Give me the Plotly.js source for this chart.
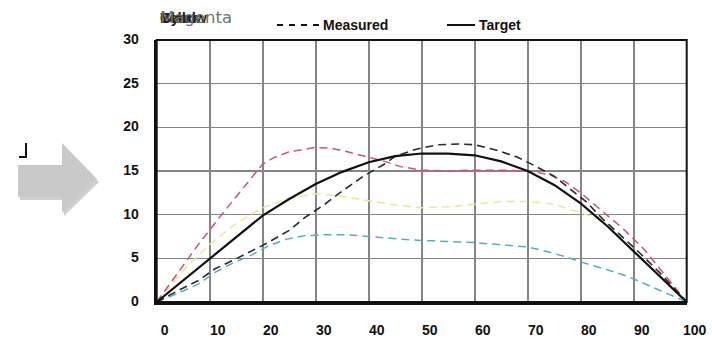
<!DOCTYPE html>
<html>
<head>
<meta charset="utf-8">
<script src="https://cdn.plot.ly/plotly-3.0.1.min.js"></script>
<style>
html,body{margin:0;padding:0;background:#fff;}
#chart{width:712px;height:339px;}
</style>
</head>
<body>
<div id="chart"></div>
<script>
// ---- data ----
const targetX = [0,5,10,15,20,25,30,35,40,45,50,55,60,65,70,75,80,85,90,95,100];
const targetY = [0,2.5,5,7.5,9.9,11.8,13.5,14.9,16.0,16.7,17.0,17.0,16.8,16.1,15.0,13.4,11.3,8.7,5.8,2.9,0];

const magentaX = [0,4,8,12,15,18,20,22,25,30,33,36,40,43,46,50,55,60,65,70,74,77,80,84,88,92,96,100];
const magentaY = [0,3.3,6.7,9.8,12,14.3,15.8,16.5,17.2,17.7,17.6,17.2,16.6,16.1,15.5,15.1,15.0,15.1,15.1,15.0,14.6,13.8,12.5,10.5,8.4,6.0,3.0,0];

const blackX = [0,4,8,11,14.5,18,21,25,28,31.5,35,39,43,45,49,53,57,60,64,68,71,75,78,81,84,87.5,91,95,100];
const blackY = [0,1.3,2.5,3.8,4.8,5.9,6.8,8.2,9.7,11.1,12.7,14.4,15.8,16.7,17.5,18.0,18.1,18.0,17.4,16.6,15.7,14.4,13.0,11.5,9.6,7.7,5.7,3.3,0];

const cyanX = [0,4,8,11,14.5,18,21,24.5,28,32,36,40,44,48,52,56,60,64,70,73.5,77,81,85,89,92,96,100];
const cyanY = [0,1.0,2.1,3.4,4.5,5.4,6.4,7.2,7.6,7.7,7.7,7.5,7.3,7.1,7.0,6.9,6.8,6.6,6.3,5.8,5.2,4.4,3.7,2.9,2.1,1.1,0];

const yellowX = [0,5,10,15,20,25,30,35,40,45,50,55,60,65,70,75,80,83,86,90,95,100];
const yellowY = [0,3.6,6.6,9.0,10.8,11.9,12.4,12.1,11.6,11.1,10.8,10.9,11.2,11.5,11.5,11.2,10.2,9.6,8.2,5.8,2.9,0];

const xTicks = [0,10,20,30,40,50,60,70,80,90,100];
const yTicks = [0,5,10,15,20,25,30];
const inkNames = ["Black","Cyan","Yellow","Magenta"];
const legendNames = ["Measured","Target"];

// ---- layout helpers (pixel -> paper) ----
const W = 712, H = 339;
const px = v => v / W;
const py = v => 1 - v / H;
const FONT = "Liberation Sans, Arial, sans-serif";
const DASH = "8px,5px";

const traces = [
  {x: yellowX, y: yellowY, mode: "lines", line: {color: "rgb(238,232,150)", width: 1.6, dash: DASH}, hoverinfo: "skip"},
  {x: cyanX, y: cyanY, mode: "lines", line: {color: "rgb(80,175,200)", width: 1.5, dash: DASH}, hoverinfo: "skip"},
  {x: magentaX, y: magentaY, mode: "lines", line: {color: "rgb(210,80,125)", width: 1.5, dash: DASH}, hoverinfo: "skip"},
  {x: blackX, y: blackY, mode: "lines", line: {color: "#2a2a2a", width: 1.6, dash: DASH}, hoverinfo: "skip"},
  {x: targetX, y: targetY, mode: "lines", line: {color: "#111", width: 2.2}, hoverinfo: "skip"}
];

const annotations = [];
inkNames.forEach((n) => {
  const isMag = n === "Magenta";
  annotations.push({
    xref: "paper", yref: "paper", x: px(158), y: py(17), xanchor: "left", yanchor: "middle",
    text: isMag ? n : "<b>" + n + "</b>", showarrow: false,
    font: {family: isMag ? "DejaVu Sans, sans-serif" : FONT, size: isMag ? 16.5 : 15, color: isMag ? "#707070" : "#222"}
  });
});
annotations.push({xref: "paper", yref: "paper", x: px(321), y: py(25), xanchor: "left", yanchor: "middle",
  text: "<b>" + legendNames[0] + "</b>", showarrow: false, font: {family: FONT, size: 14, color: "#111"}});
annotations.push({xref: "paper", yref: "paper", x: px(477), y: py(25), xanchor: "left", yanchor: "middle",
  text: "<b>" + legendNames[1] + "</b>", showarrow: false, font: {family: FONT, size: 14, color: "#111"}});

function arrowPath(dx, dy) {
  const pts = [[18,165],[62,165],[62,143],[97,179],[62,213],[62,197],[18,197]];
  return "M " + pts.map(p => px(p[0] + dx) + "," + py(p[1] + dy)).join(" L ") + " Z";
}

const shapes = [
  {type: "path", xref: "paper", yref: "paper", path: arrowPath(2, 3), fillcolor: "rgba(120,120,120,0.35)", line: {width: 0}},
  {type: "path", xref: "paper", yref: "paper", path: arrowPath(0, 0), fillcolor: "#c9c9c9", line: {width: 0}},
  {type: "path", xref: "paper", yref: "paper",
   path: "M " + px(26) + "," + py(143) + " L " + px(26) + "," + py(157) + " L " + px(19) + "," + py(157),
   line: {color: "#111", width: 2}},
  {type: "rect", xref: "x domain", yref: "y domain", x0: 0, x1: 1, y0: 0, y1: 1, line: {color: "#111", width: 2}},
  {type: "line", xref: "paper", yref: "paper", x0: px(277), x1: px(320), y0: py(25), y1: py(25),
   line: {color: "#111", width: 2, dash: "6px,6px"}},
  {type: "line", xref: "paper", yref: "paper", x0: px(447), x1: px(475), y0: py(25), y1: py(25),
   line: {color: "#111", width: 2}}
];

const layout = {
  width: W, height: H,
  margin: {l: 0, r: 0, t: 0, b: 0},
  paper_bgcolor: "#fff", plot_bgcolor: "#fff",
  showlegend: false,
  xaxis: {
    domain: [px(156.7), px(686.7)], range: [0, 100], tickvals: xTicks, ticktext: xTicks.map(String),
    showgrid: true, gridcolor: "#858585", gridwidth: 1.6, zeroline: false,
    showline: true, linecolor: "#111", linewidth: 3, ticks: "",
    ticklabelstandoff: 13, ticklabelshift: 8,
    tickfont: {family: FONT, size: 14, color: "#111", weight: "bold"}, fixedrange: true
  },
  yaxis: {
    domain: [1 - 302 / H, 1 - 40 / H], range: [0, 30], tickvals: yTicks, ticktext: yTicks.map(String),
    showgrid: true, gridcolor: "#858585", gridwidth: 1.6, zeroline: false,
    showline: true, linecolor: "#111", linewidth: 3, ticks: "",
    ticklabelstandoff: 12, ticklabelshift: -1,
    tickfont: {family: FONT, size: 14, color: "#111", weight: "bold"}, fixedrange: true
  },
  annotations: annotations,
  shapes: shapes
};

Plotly.newPlot("chart", traces, layout, {displayModeBar: false, staticPlot: true});
</script>
</body>
</html>
